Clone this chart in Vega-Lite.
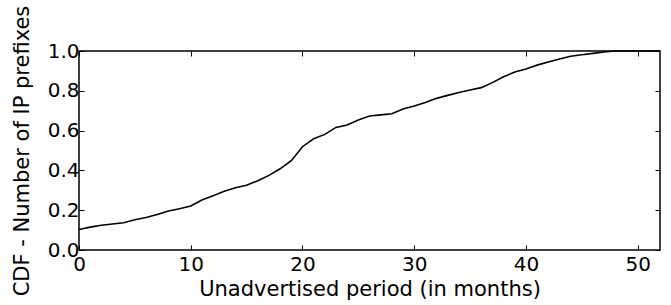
{
  "$schema": "https://vega.github.io/schema/vega-lite/v6.json",
  "autosize": "none",
  "width": 581,
  "height": 199,
  "padding": {"left": 79, "top": 51, "right": 11, "bottom": 55},
  "background": "white",
  "config": {
    "view": {"stroke": "black", "strokeWidth": 1.5},
    "font": "DejaVu Sans",
    "axis": {"grid": false, "domain": false, "tickColor": "black", "tickSize": -5, "tickWidth": 1, "labelFont": "DejaVu Sans", "titleFont": "DejaVu Sans", "labelColor": "black", "titleColor": "black", "labelFontSize": 20, "titleFontSize": 21, "titleFontWeight": "normal"}
  },
  "data": {"values": [
    {"x": 0, "y": 0.103},
    {"x": 1, "y": 0.115},
    {"x": 2, "y": 0.124},
    {"x": 3, "y": 0.131},
    {"x": 4, "y": 0.137},
    {"x": 5, "y": 0.152},
    {"x": 6, "y": 0.163},
    {"x": 7, "y": 0.178},
    {"x": 8, "y": 0.196},
    {"x": 9, "y": 0.207},
    {"x": 10, "y": 0.221},
    {"x": 11, "y": 0.251},
    {"x": 12, "y": 0.273},
    {"x": 13, "y": 0.295},
    {"x": 14, "y": 0.313},
    {"x": 15, "y": 0.325},
    {"x": 16, "y": 0.348},
    {"x": 17, "y": 0.375},
    {"x": 18, "y": 0.408},
    {"x": 19, "y": 0.449},
    {"x": 20, "y": 0.519},
    {"x": 21, "y": 0.559},
    {"x": 22, "y": 0.581},
    {"x": 23, "y": 0.616},
    {"x": 24, "y": 0.628},
    {"x": 25, "y": 0.653},
    {"x": 26, "y": 0.673},
    {"x": 27, "y": 0.679},
    {"x": 28, "y": 0.685},
    {"x": 29, "y": 0.709},
    {"x": 30, "y": 0.724},
    {"x": 31, "y": 0.741},
    {"x": 32, "y": 0.762},
    {"x": 33, "y": 0.777},
    {"x": 34, "y": 0.791},
    {"x": 35, "y": 0.804},
    {"x": 36, "y": 0.816},
    {"x": 37, "y": 0.841},
    {"x": 38, "y": 0.871},
    {"x": 39, "y": 0.894},
    {"x": 40, "y": 0.910},
    {"x": 41, "y": 0.929},
    {"x": 42, "y": 0.945},
    {"x": 43, "y": 0.960},
    {"x": 44, "y": 0.974},
    {"x": 45, "y": 0.981},
    {"x": 46, "y": 0.988},
    {"x": 47, "y": 0.995},
    {"x": 48, "y": 1.0},
    {"x": 50, "y": 1.0},
    {"x": 52, "y": 1.0}
  ]},
  "layer": [
    {
      "mark": {"type": "line", "color": "black", "strokeWidth": 1.6},
      "encoding": {
        "x": {"field": "x", "type": "quantitative", "scale": {"domain": [0, 52], "nice": false, "zero": false},
          "axis": {"orient": "bottom", "title": "Unadvertised period (in months)", "values": [0, 10, 20, 30, 40, 50], "labelPadding": 9, "titlePadding": 4, "labelFlush": false}},
        "y": {"field": "y", "type": "quantitative", "scale": {"domain": [0, 1], "nice": false},
          "axis": {"orient": "left", "title": "CDF - Number of IP prefixes", "values": [0, 0.2, 0.4, 0.6, 0.8, 1.0], "format": ".1f", "labelPadding": 5, "titlePadding": 15, "labelFlush": false}}
      }
    },
    {
      "mark": {"type": "line", "opacity": 0},
      "encoding": {
        "x": {"field": "x", "type": "quantitative", "scale": {"domain": [0, 52], "nice": false, "zero": false},
          "axis": {"orient": "top", "title": null, "labels": false, "values": [0, 10, 20, 30, 40, 50]}},
        "y": {"field": "y", "type": "quantitative", "scale": {"domain": [0, 1], "nice": false},
          "axis": {"orient": "right", "title": null, "labels": false, "values": [0, 0.2, 0.4, 0.6, 0.8, 1.0]}}
      }
    }
  ],
  "resolve": {"axis": {"x": "independent", "y": "independent"}}
}
